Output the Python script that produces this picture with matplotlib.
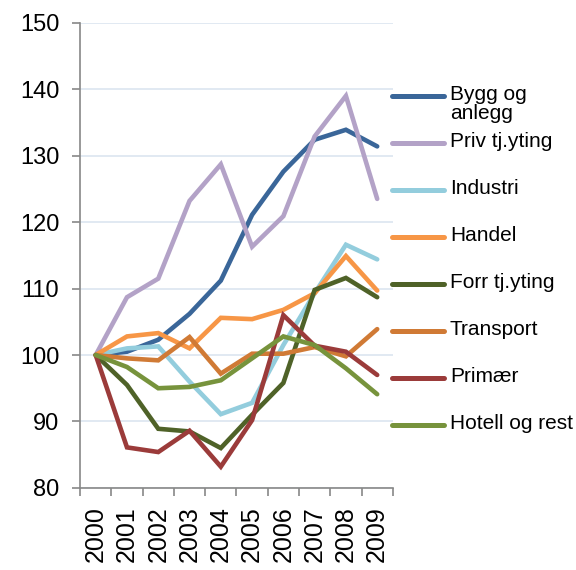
import numpy as np
import matplotlib.pyplot as plt
from matplotlib.lines import Line2D

plt.rcParams['font.family'] = ['Liberation Sans', 'DejaVu Sans']

years = ['2000', '2001', '2002', '2003', '2004', '2005', '2006', '2007', '2008', '2009']

bygg = [100, 100.5, 102.3, 106.2, 111.2, 121.1, 127.6, 132.4, 133.9, 131.4]
priv = [100, 108.7, 111.5, 123.2, 128.7, 116.3, 120.9, 132.9, 139.0, 123.5]
industri = [100, 101.0, 101.3, 96.0, 91.1, 92.8, 101.5, 109.3, 116.6, 114.4]
handel = [100, 102.8, 103.3, 101.0, 105.6, 105.4, 106.8, 109.3, 114.9, 109.7]
forr = [100, 95.5, 88.9, 88.5, 86.0, 91.0, 95.8, 109.8, 111.6, 108.7]
transport = [100, 99.5, 99.2, 102.7, 97.2, 100.2, 100.2, 101.2, 99.8, 103.9]
primaer = [100, 86.1, 85.4, 88.6, 83.2, 90.2, 106.0, 101.4, 100.5, 97.0]
hotell = [100, 98.2, 95.0, 95.2, 96.2, 99.5, 102.8, 101.5, 98.0, 94.1]

labels = ['Bygg og\nanlegg', 'Priv tj.yting', 'Industri', 'Handel',
          'Forr tj.yting', 'Transport', 'Primær', 'Hotell og rest']
series = [bygg, priv, industri, handel, forr, transport, primaer, hotell]
colors = ['#3A6699', '#B3A2C7', '#93CDDD', '#F79646',
          '#4F6228', '#D07A35', '#9B3B3A', '#77933C']

fig = plt.figure(figsize=(5.76, 5.70), dpi=100)
ax = fig.add_axes([0.139, 0.144, 0.543, 0.816])

x = np.arange(len(years))
for vals, c in zip(series, colors):
    ax.plot(x, vals, color=c, lw=3.3, solid_capstyle='round', solid_joinstyle='miter')

ax.set_xlim(-0.5, len(years) - 0.5)
ax.set_ylim(80, 150)
ax.set_yticks(np.arange(80, 151, 10))
ax.grid(axis='y', color='#DCE5F0', lw=1.2)
ax.set_axisbelow(True)

ax.set_xticks(x)
ax.set_xticklabels(years, rotation=90, fontsize=18)
ax.set_xticks(np.arange(-0.5, len(years)), minor=True)
ax.tick_params(axis='x', which='major', length=0, pad=13)
ax.tick_params(axis='x', which='minor', length=6, width=1.2, color='#888888', direction='out')
ax.tick_params(axis='y', length=6, width=1.2, color='#888888', labelsize=17, pad=9)

for s in ['top', 'right']:
    ax.spines[s].set_visible(False)
for s in ['left', 'bottom']:
    ax.spines[s].set_color('#888888')
    ax.spines[s].set_linewidth(1.2)

# legend, drawn by hand so the handle sits on the first text line
y0 = 1 - 96 / 570
step = 47 / 570
for i, (lab, c) in enumerate(zip(labels, colors)):
    yy = y0 - i * step
    fig.add_artist(Line2D([392 / 576, 444 / 576], [yy, yy], color=c, lw=3.6,
                          solid_capstyle='round', transform=fig.transFigure))
    fig.text(450 / 576, yy + 11 / 570, lab, fontsize=15, va='top', ha='left',
             linespacing=1.0)

fig.savefig('out.png', dpi=100)
